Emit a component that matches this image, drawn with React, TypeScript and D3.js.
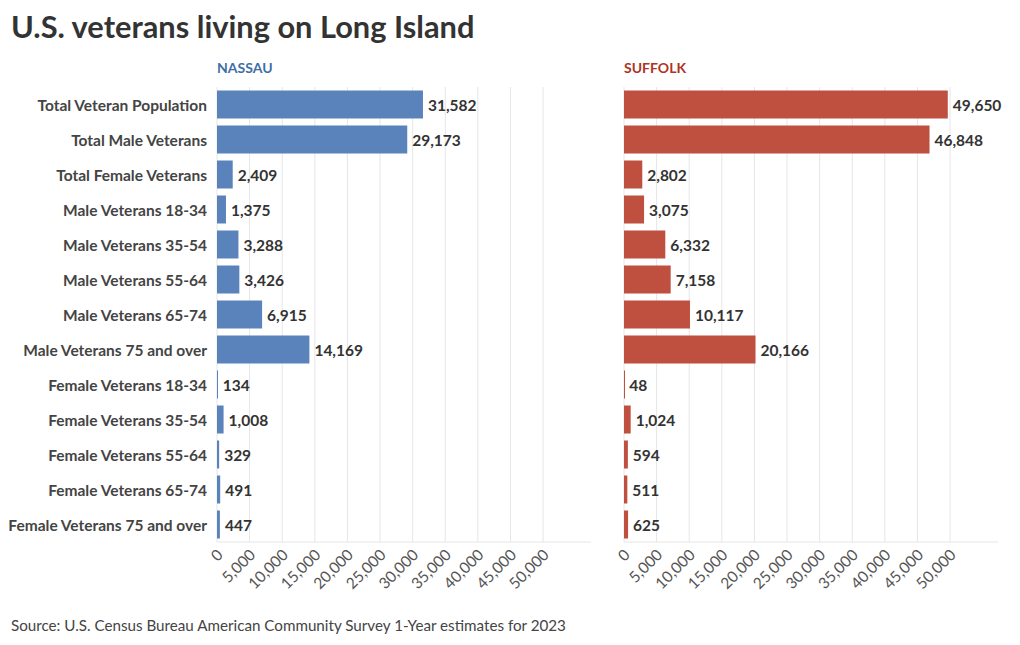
import React from "react";
import * as d3 from "d3";

const categories = [
  "Total Veteran Population",
  "Total Male Veterans",
  "Total Female Veterans",
  "Male Veterans 18-34",
  "Male Veterans 35-54",
  "Male Veterans 55-64",
  "Male Veterans 65-74",
  "Male Veterans 75 and over",
  "Female Veterans 18-34",
  "Female Veterans 35-54",
  "Female Veterans 55-64",
  "Female Veterans 65-74",
  "Female Veterans 75 and over",
];
const nassau = [31582, 29173, 2409, 1375, 3288, 3426, 6915, 14169, 134, 1008, 329, 491, 447];
const suffolk = [49650, 46848, 2802, 3075, 6332, 7158, 10117, 20166, 48, 1024, 594, 511, 625];
const ticks = [0, 5000, 10000, 15000, 20000, 25000, 30000, 35000, 40000, 45000, 50000];

const FONT = "Lato, 'Open Sans', sans-serif";
const fmt = d3.format(",");

function Panel({ x0, x1, title, color, titleColor, values, showLabels }: any) {
  const x = d3.scaleLinear().domain([0, 57350]).range([x0, x1]);
  const y = d3.scaleBand().domain(categories).range([87, 542]).paddingInner(0.2).paddingOuter(0.1);
  return (
    <g>
      <text x={x0} y={73} fill={titleColor} fontSize={14} fontWeight={700} fontFamily={FONT}>
        {title}
      </text>
      {ticks.map((t) => (
        <line key={t} x1={x(t)} x2={x(t)} y1={87} y2={542} stroke="#e6e6e6" strokeWidth={1} />
      ))}
      <line x1={x0} x2={x1} y1={542} y2={542} stroke="#e6e6e6" strokeWidth={1} />
      {ticks.map((t) => (
        <text
          key={"l" + t}
          transform={`translate(${x(t) + 4},${553}) rotate(-45)`}
          textAnchor="end"
          dominantBaseline="middle"
          fontSize={15.5}
          fill="#555"
          fontFamily={FONT}
        >
          {fmt(t)}
        </text>
      ))}
      {categories.map((c, i) => (
        <g key={c}>
          <rect x={x(0)} y={y(c)} width={Math.max(1, x(values[i]) - x(0))} height={y.bandwidth()} fill={color} />
          <text
            x={x(values[i]) + 5}
            y={(y(c) as number) + y.bandwidth() / 2}
            dominantBaseline="central"
            fontSize={15.5}
            fontWeight={700}
            fill="#333"
            fontFamily={FONT}
          >
            {fmt(values[i])}
          </text>
          {showLabels && (
            <text
              x={x0 - 10}
              y={(y(c) as number) + y.bandwidth() / 2}
              dominantBaseline="central"
              textAnchor="end"
              fontSize={15.5}
              fontWeight={700}
              fill="#444"
              fontFamily={FONT}
            >
              {c}
            </text>
          )}
        </g>
      ))}
    </g>
  );
}

export default function App() {
  return (
    <svg width={1020} height={645} style={{ position: "absolute", left: 0, top: 0, background: "#fff" }}>
      <text x={11} y={38} fontSize={30.8} fontWeight={700} fill="#333" fontFamily={FONT}>
        U.S. veterans living on Long Island
      </text>
      <Panel x0={217} x1={591} title="NASSAU" color="#5b83bb" titleColor="#3f6ea6" values={nassau} showLabels />
      <Panel x0={624} x1={998} title="SUFFOLK" color="#bf4f3f" titleColor="#ae3424" values={suffolk} showLabels={false} />
      <text x={11} y={631} fontSize={15.2} fill="#444" fontFamily={FONT}>
        Source: U.S. Census Bureau American Community Survey 1-Year estimates for 2023
      </text>
    </svg>
  );
}
